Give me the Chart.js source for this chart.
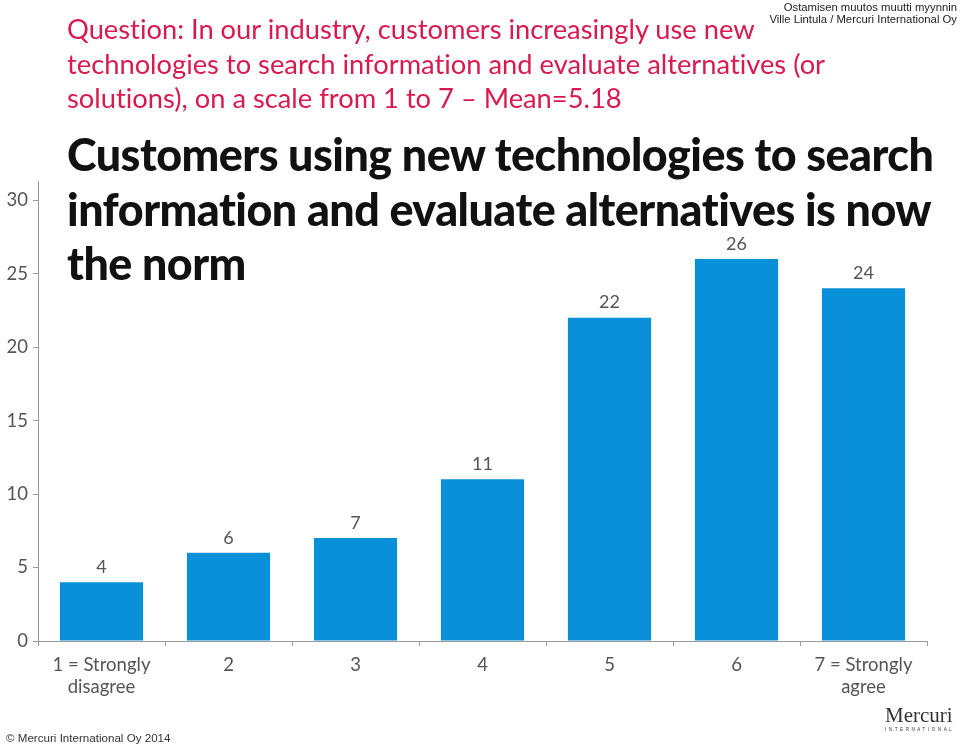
<!DOCTYPE html>
<html>
<head>
<meta charset="utf-8">
<script src="https://cdn.jsdelivr.net/npm/chart.js@4/dist/chart.umd.min.js"></script>
<style>
  html, body { margin:0; padding:0; background:#fff; }
  #wrap { position:relative; width:960px; height:745px; overflow:hidden; }
  #c { position:absolute; left:0; top:0; }
  .txt { position:absolute; white-space:nowrap; font-variant-ligatures:none; }
  #question { left:67px; top:12px; font-family:Lato, sans-serif; font-size:27.3px; line-height:34.5px; color:#d81a4e; }
  #headline { left:67px; top:127px; font-family:Lato, sans-serif; font-weight:900; font-size:44.8px; line-height:54.5px; color:#111; letter-spacing:-0.5px; }
  #source { right:3px; top:1px; font-family:"Liberation Sans", Arial, sans-serif; font-size:11.3px; line-height:12px; color:#222; text-align:right; }
  #copy { left:6px; top:731px; font-family:"Liberation Sans", Arial, sans-serif; font-size:11.6px; color:#333; }
  #logo { left:885px; top:704px; font-family:"Liberation Serif", serif; font-size:21px; color:#333; line-height:22px; }
  #logo small { display:block; font-family:"Liberation Sans", sans-serif; font-size:4.5px; letter-spacing:2.6px; line-height:7px; }
</style>
</head>
<body>
<div id="wrap">
  <canvas id="c" width="960" height="745"></canvas>
  <div class="txt" id="question">Question: In our industry, customers increasingly use new<br>technologies to search information and evaluate alternatives (or<br>solutions), on a scale from 1 to 7 – Mean=5.18</div>
  <div class="txt" id="headline">Customers using new technologies to search<br>information and evaluate alternatives is now<br>the norm</div>
  <div class="txt" id="source">Ostamisen muutos muutti myynnin<br>Ville Lintula / Mercuri International Oy</div>
  <div class="txt" id="copy">© Mercuri International Oy 2014</div>
  <div class="txt" id="logo">Mercuri<small>INTERNATIONAL</small></div>
</div>
<script>
(function(){
  'use strict';

  // scale 1..7 answers, number of respondents
  const categories = [['1 = Strongly', 'disagree'], '2', '3', '4', '5', '6', ['7 = Strongly', 'agree']];
  const counts = [4, 6, 7, 11, 22, 26, 24];
  const yTicks = [0, 5, 10, 15, 20, 25, 30];

  const barColor = '#0a90d8';
  const axisColor = '#9a9a9a';
  const labelFont = { family: 'Lato, sans-serif', size: 18.5 };

  // value labels above each bar
  const valueLabels = {
    id: 'valueLabels',
    afterDatasetsDraw(chart){
      const ctx = chart.ctx;
      const meta = chart.getDatasetMeta(0);
      ctx.save();
      ctx.fillStyle = '#555';
      ctx.font = '18px Lato, sans-serif';
      ctx.textAlign = 'center';
      ctx.textBaseline = 'bottom';
      meta.data.forEach(function(bar, i){
        ctx.fillText(String(counts[i]), bar.x, bar.y - 6);
      });
      ctx.restore();
    }
  };

  new Chart(document.getElementById('c'), {
    type: 'bar',
    data: {
      labels: categories,
      datasets: [{ data: counts, backgroundColor: barColor, barPercentage: 0.655, categoryPercentage: 1 }]
    },
    options: {
      responsive: false,
      animation: false,
      layout: { padding: { top: 181, right: 33, left: 0, bottom: 0 } },
      plugins: { legend: { display: false }, tooltip: { enabled: false } },
      scales: {
        x: {
          border: { color: axisColor },
          grid: { drawOnChartArea: false, drawTicks: true, tickLength: 5, color: axisColor, offset: true },
          ticks: { color: '#555', font: labelFont, padding: 8, maxRotation: 0, autoSkip: false },
          afterFit(scale){ scale.height = 104; }
        },
        y: {
          min: 0,
          max: 31.3,
          border: { color: axisColor },
          grid: { drawOnChartArea: false, drawTicks: true, tickLength: 5, color: axisColor },
          ticks: { color: '#555', font: labelFont, padding: 5 },
          afterBuildTicks(scale){ scale.ticks = yTicks.map(v => ({ value: v })); },
          afterFit(scale){ scale.width = 38; }
        }
      }
    },
    plugins: [valueLabels]
  });
})();
</script>
</body>
</html>
